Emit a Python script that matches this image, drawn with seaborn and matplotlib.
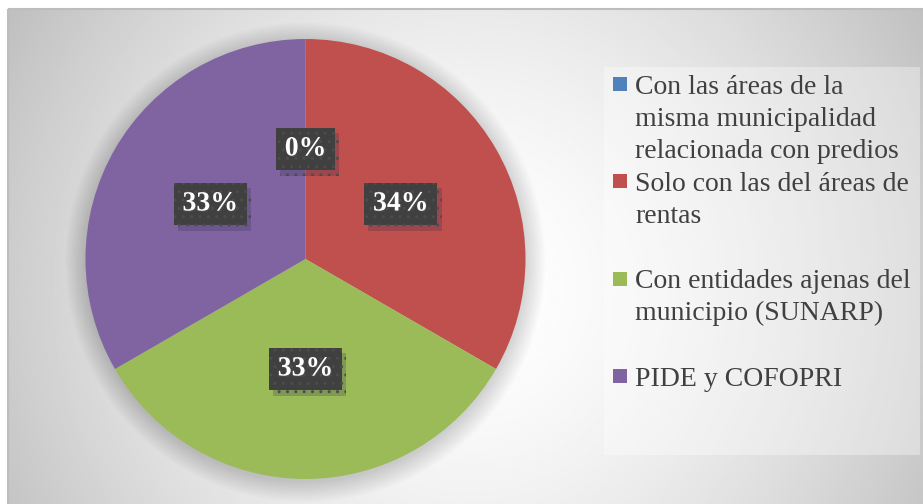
import numpy as np
import matplotlib
matplotlib.use("Agg")
import matplotlib.pyplot as plt
import matplotlib.patheffects as pe
from matplotlib.patches import Rectangle, Circle
import seaborn as sns

# slice sizes (three equal slices, one empty)
categories = [
    "Con las áreas de la\nmisma municipalidad\nrelacionada con predios",
    "Solo con las del áreas de\nrentas",
    "Con entidades ajenas del\nmunicipio (SUNARP)",
    "PIDE y COFOPRI",
]
values = [0, 1, 1, 1]
pct_labels = ["0%", "34%", "33%", "33%"]
colors = ["#4F81BD", "#C0504D", "#9BBB59", "#8064A2"]

sns.set_theme(style="white")
sns.set_palette(colors)
plt.rcParams["font.family"] = ["Liberation Serif", "DejaVu Serif"]

W, H = 923, 504
fig = plt.figure(figsize=(W / 100, H / 100), dpi=100)
fig.patch.set_facecolor("white")

# background axes in pixel coordinates
bg = fig.add_axes([0, 0, 1, 1], zorder=0)
bg.set_xlim(0, W)
bg.set_ylim(H, 0)
bg.axis("off")

# soft grey gradient of the chart area
xs = np.linspace(8, W, 400)
ys = np.linspace(9, H, 250)
gx, gy = np.meshgrid(xs, ys)
dx = (gx - 470) / 460
dy = (gy - 290) / 260
shade = 255 - 50 * (dx ** 2 + 0.3 * dy ** 2) ** 0.8
shade = np.clip(shade, 190, 255) / 255
bg.imshow(shade, cmap="gray", vmin=0, vmax=1, extent=(8, W, H, 9),
          aspect="auto", interpolation="bilinear", zorder=0)
bg.add_patch(Rectangle((8, 9), W + 10, H + 10, facecolor="none",
                       edgecolor="#bdbdbd", lw=1.5, zorder=1))

# legend panel
bg.add_patch(Rectangle((604, 67), 316, 388, facecolor="white", alpha=0.35,
                       edgecolor="none", zorder=2))
for i, (lab, col) in enumerate(zip(categories, colors)):
    top = 77 + i * 97.4
    bg.add_patch(Rectangle((613, top), 14, 14, facecolor=col,
                           edgecolor="none", zorder=3))
    for k, line in enumerate(lab.split("\n")):
        bg.text(635, top + 16.5 + k * 32, line, fontsize=20, color="#404040",
                va="baseline", ha="left", zorder=3)

# pie axes
r_px = 220
cx, cy = 305.5, 259
ax = fig.add_axes([(cx - r_px) / W, (H - cy - r_px) / H,
                   2 * r_px / W, 2 * r_px / H], zorder=1)
ax.patch.set_alpha(0)

# blurred halo under the pie
for k in range(14):
    ax.add_patch(Circle((0, -0.015), 1.0 + 0.007 * k, facecolor="black",
                        edgecolor="none", alpha=0.012, clip_on=False, zorder=0))

wedges, _, autotexts = ax.pie(
    values, colors=colors, startangle=90, counterclock=False,
    autopct="%1.0f%%", pctdistance=0.5, radius=1,
    wedgeprops=dict(linewidth=0),
)
for w in wedges:
    w.set_zorder(2)
ax.set_xlim(-1, 1)
ax.set_ylim(-1, 1)
ax.axis("off")

for t, lab in zip(autotexts, pct_labels):
    t.set_text(lab)
    t.set_fontsize(20)
    t.set_fontweight("bold")
    t.set_color("white")
    t.set_zorder(5)
    t.set_path_effects([pe.withSimplePatchShadow(offset=(1, -1), alpha=0.6)])
    t.set_bbox(dict(boxstyle="square,pad=0.32", facecolor="#404040",
                    edgecolor="#4c4c4c", hatch="..", linewidth=0))
    t.get_bbox_patch().set_path_effects([
        pe.SimplePatchShadow(offset=(3, -4), shadow_rgbFace="#303050", alpha=0.25),
        pe.Normal(),
    ])

fig.savefig("out.png", dpi=100)
